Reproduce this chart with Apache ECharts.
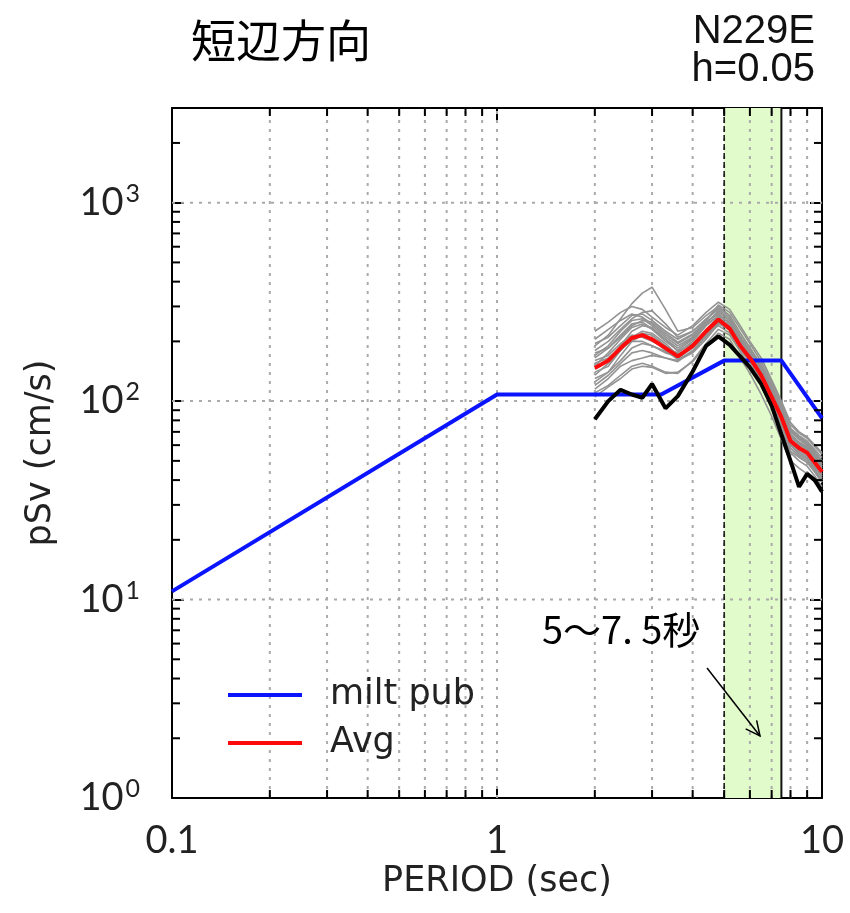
<!DOCTYPE html>
<html>
<head>
<meta charset="utf-8">
<script src="https://cdn.jsdelivr.net/npm/echarts@6/dist/echarts.min.js"></script>
<style>
  html, body { margin: 0; padding: 0; background: #fff; }
  #chart { width: 850px; height: 913px; }
</style>
</head>
<body>
<div id="chart"></div>
<script>
// axis range
const xMin = 0.1, xMax = 10;
const yMin = 1, yMax = 3000;

// milt pub (blue)
const bluePeriods = [0.1, 1, 3.2, 5, 7.5, 10];
const blueValues = [11, 108, 108, 160, 160, 82];

// period grid shared by observed spectra
const periods = [2, 2.2, 2.4, 2.6, 2.8, 3.0, 3.3, 3.6, 4.0, 4.4, 4.8, 5.2, 5.6, 6.0, 6.5, 7.0, 7.5, 8.0, 8.5, 9.0, 9.5, 10];
const avgValues = [147, 160, 185, 208, 215, 205, 185, 168, 190, 225, 258, 232, 190, 165, 135, 105, 83, 63, 58, 55, 49, 44];
const blackValues = [81, 100, 114, 108, 104, 122, 92, 106, 141, 190, 212, 192, 168, 148, 122, 95, 68, 50, 37, 43, 40, 35];

// individual records (gray)
const gray1 = [190, 215, 260, 310, 350, 375, 290, 225, 235, 270, 300, 270, 220, 185, 150, 118, 95, 72, 66, 62, 56, 50];
const gray2 = [225, 250, 280, 300, 290, 265, 235, 215, 240, 280, 315, 290, 240, 200, 165, 128, 100, 78, 70, 66, 60, 55];
const gray3 = [110, 120, 135, 150, 155, 150, 140, 138, 160, 195, 230, 215, 178, 150, 120, 92, 72, 55, 50, 47, 42, 37];
const gray4 = [150, 175, 205, 235, 245, 230, 200, 180, 205, 245, 285, 255, 205, 172, 140, 108, 85, 66, 60, 57, 51, 45];
const gray5 = [130, 140, 160, 185, 195, 190, 178, 165, 185, 215, 240, 220, 182, 158, 128, 100, 78, 60, 55, 52, 46, 41];
const gray6 = [170, 190, 225, 255, 260, 240, 210, 190, 210, 250, 275, 245, 198, 170, 138, 106, 82, 64, 58, 56, 50, 45];
const gray7 = [120, 135, 155, 175, 180, 175, 165, 158, 180, 210, 250, 235, 195, 168, 135, 104, 80, 61, 57, 55, 49, 43];
const gray8 = [140, 150, 180, 210, 225, 220, 195, 170, 190, 230, 265, 240, 195, 165, 132, 100, 78, 60, 54, 51, 45, 40];
const gray9 = [195, 210, 240, 270, 275, 255, 225, 205, 225, 260, 290, 262, 212, 180, 148, 116, 92, 71, 65, 61, 55, 50];
const gray10 = [160, 170, 195, 215, 210, 200, 185, 175, 200, 240, 270, 248, 204, 175, 144, 112, 88, 68, 62, 59, 53, 48];
const gray11 = [115, 130, 150, 160, 165, 170, 165, 160, 175, 205, 245, 230, 190, 160, 125, 95, 73, 56, 52, 49, 44, 39];
const gray12 = [180, 200, 230, 260, 280, 285, 245, 210, 225, 258, 295, 268, 220, 186, 152, 120, 94, 73, 67, 63, 57, 52];
const gray13 = [145, 160, 190, 225, 240, 235, 205, 178, 195, 228, 260, 236, 192, 165, 134, 103, 80, 62, 56, 53, 47, 42];
const gray14 = [205, 230, 255, 275, 265, 245, 215, 195, 215, 250, 280, 255, 210, 178, 146, 114, 90, 70, 64, 60, 54, 49];
const gray15 = [125, 140, 170, 200, 215, 205, 180, 162, 178, 215, 252, 236, 198, 172, 140, 110, 86, 66, 61, 58, 52, 47];
const gray16 = [155, 165, 185, 200, 200, 190, 175, 168, 192, 226, 258, 240, 200, 174, 142, 112, 87, 67, 61, 58, 52, 46];
const gray17 = [135, 155, 180, 205, 220, 215, 190, 172, 188, 218, 248, 228, 186, 160, 128, 98, 76, 58, 53, 50, 44, 39];
const gray18 = [175, 185, 210, 240, 255, 250, 220, 198, 218, 255, 305, 280, 232, 195, 158, 124, 98, 76, 69, 65, 59, 54];
const gray19 = [105, 118, 130, 145, 150, 148, 138, 140, 158, 190, 220, 205, 165, 138, 108, 84, 64, 50, 46, 43, 39, 35];
const gray20 = [165, 185, 215, 245, 250, 232, 205, 185, 208, 242, 270, 250, 206, 176, 144, 112, 88, 68, 62, 59, 53, 47];
const grayList = [gray1, gray2, gray3, gray4, gray5, gray6, gray7, gray8, gray9, gray10,
  gray11, gray12, gray13, gray14, gray15, gray16, gray17, gray18, gray19, gray20];

// highlighted band 5~7.5 s
const bandPeriods = [5, 7.5];

// grid / minor ticks
const xGridLines = [0.2, 0.3, 0.4, 0.5, 0.6, 0.7, 0.8, 0.9, 1, 2, 3, 4, 5, 6, 7, 8, 9];
const xMinorTicks = [0.2, 0.3, 0.4, 0.5, 0.6, 0.7, 0.8, 0.9, 2, 3, 4, 5, 6, 7, 8, 9];
const yGridLines = [10, 100, 1000];
const yMinorTicks = [2, 3, 4, 5, 6, 7, 8, 9, 20, 30, 40, 50, 60, 70, 80, 90, 200, 300, 400, 500, 600, 700, 800, 900, 2000];

const pairs = (xs, ys) => xs.map((x, i) => [x, ys[i]]);

const chart = echarts.init(document.getElementById("chart"));

const tickFont = "Lato";
const nameFont = "DejaVu Sans";
const supers = { 0: "0", 1: "1", 2: "2", 3: "3" };

const grayColor = "#939393";
const series = [];

// green band
series.push({
  type: "custom",
  z: 1,
  silent: true,
  data: [bandPeriods],
  renderItem: function (params, api) {
    const p1 = api.coord([api.value(0), yMax]);
    const p2 = api.coord([api.value(1), yMin]);
    return {
      type: "rect",
      shape: { x: p1[0], y: p1[1], width: p2[0] - p1[0], height: p2[1] - p1[1] },
      style: { fill: "#e2fbcb" },
    };
  },
});

// dashed grid
series.push({
  type: "custom",
  z: 1.2,
  silent: true,
  data: xGridLines.map((t) => [t, 1]),
  renderItem: function (params, api) {
    const a = api.coord([api.value(0), yMin]);
    const b = api.coord([api.value(0), yMax]);
    return {
      type: "line",
      shape: { x1: a[0], y1: a[1], x2: b[0], y2: b[1] },
      style: { stroke: "#aaaaaa", lineWidth: 2, lineDash: [3, 6] },
    };
  },
});
series.push({
  type: "custom",
  z: 1.2,
  silent: true,
  data: yGridLines.map((v) => [1, v]),
  renderItem: function (params, api) {
    const a = api.coord([xMin, api.value(1)]);
    const b = api.coord([xMax, api.value(1)]);
    return {
      type: "line",
      shape: { x1: a[0], y1: a[1], x2: b[0], y2: b[1] },
      style: { stroke: "#aaaaaa", lineWidth: 2, lineDash: [3, 6] },
    };
  },
});

// minor ticks (inside, all four sides)
series.push({
  type: "custom",
  z: 3,
  silent: true,
  data: xMinorTicks.map((t) => [t, 1]),
  renderItem: function (params, api) {
    const a = api.coord([api.value(0), yMin]);
    const b = api.coord([api.value(0), yMax]);
    return {
      type: "group",
      children: [
        { type: "line", shape: { x1: a[0], y1: a[1], x2: a[0], y2: a[1] - 8 }, style: { stroke: "#000", lineWidth: 2 } },
        { type: "line", shape: { x1: b[0], y1: b[1], x2: b[0], y2: b[1] + 8 }, style: { stroke: "#000", lineWidth: 2 } },
      ],
    };
  },
});
series.push({
  type: "custom",
  z: 3,
  silent: true,
  data: yMinorTicks.map((v) => [1, v]),
  renderItem: function (params, api) {
    const a = api.coord([xMin, api.value(1)]);
    const b = api.coord([xMax, api.value(1)]);
    return {
      type: "group",
      children: [
        { type: "line", shape: { x1: a[0], y1: a[1], x2: a[0] + 8, y2: a[1] }, style: { stroke: "#000", lineWidth: 2 } },
        { type: "line", shape: { x1: b[0], y1: b[1], x2: b[0] - 8, y2: b[1] }, style: { stroke: "#000", lineWidth: 2 } },
      ],
    };
  },
});

// band edges: dashed at 5 s, solid at 7.5 s
series.push({
  type: "custom",
  z: 1.4,
  silent: true,
  data: [bandPeriods],
  renderItem: function (params, api) {
    const a1 = api.coord([api.value(0), yMin]);
    const b1 = api.coord([api.value(0), yMax]);
    const a2 = api.coord([api.value(1), yMin]);
    const b2 = api.coord([api.value(1), yMax]);
    return {
      type: "group",
      children: [
        { type: "line", shape: { x1: a1[0], y1: a1[1], x2: b1[0], y2: b1[1] }, style: { stroke: "#111", lineWidth: 1.5, lineDash: [6, 3] } },
        { type: "line", shape: { x1: a2[0], y1: a2[1], x2: b2[0], y2: b2[1] }, style: { stroke: "#111", lineWidth: 2 } },
      ],
    };
  },
});

grayList.forEach((vals, i) => {
  series.push({
    name: "rec" + (i + 1),
    type: "line",
    z: 2,
    data: pairs(periods, vals),
    showSymbol: false,
    silent: true,
    color: grayColor,
    lineStyle: { color: grayColor, width: 1.6 },
  });
});

series.push({
  name: "milt pub",
  type: "line",
  z: 2,
  data: pairs(bluePeriods, blueValues),
  showSymbol: false,
  color: "#0a14ff",
  lineStyle: { color: "#0a14ff", width: 4 },
});
series.push({
  name: "obs",
  type: "line",
  z: 2,
  data: pairs(periods, blackValues),
  showSymbol: false,
  color: "#000",
  lineStyle: { color: "#000", width: 4 },
});
series.push({
  name: "Avg",
  type: "line",
  z: 2,
  data: pairs(periods, avgValues),
  showSymbol: false,
  color: "#ff0a0a",
  lineStyle: { color: "#ff0a0a", width: 4 },
});

// arrow annotation
const arrowFrom = [707, 668], arrowTo = [760, 736];
const ang = Math.atan2(arrowTo[1] - arrowFrom[1], arrowTo[0] - arrowFrom[0]);
const headLen = 16, headAng = 0.45;
const head1 = [arrowTo[0] - headLen * Math.cos(ang - headAng), arrowTo[1] - headLen * Math.sin(ang - headAng)];
const head2 = [arrowTo[0] - headLen * Math.cos(ang + headAng), arrowTo[1] - headLen * Math.sin(ang + headAng)];

const option = {
  animation: false,
  backgroundColor: "#fff",
  title: {
    text: "短辺方向",
    left: 186,
    top: 13,
    textStyle: { fontFamily: "Noto Sans CJK JP", fontSize: 45, fontWeight: "normal", color: "#000" },
  },
  legend: {
    data: ["milt pub", "Avg"],
    orient: "vertical",
    left: 223,
    top: 670,
    icon: "rect",
    itemWidth: 74,
    itemHeight: 4,
    itemGap: 8,
    textStyle: { fontFamily: nameFont, fontSize: 35, color: "#222", lineHeight: 40, padding: [0, 0, 0, 23] },
  },
  grid: { left: 172, right: 28, top: 108, bottom: 115 },
  xAxis: [
    {
      type: "log",
      min: xMin,
      max: xMax,
      position: "bottom",
      axisLine: { show: true, lineStyle: { color: "#000", width: 2 } },
      axisTick: { show: true, inside: true, length: 12, lineStyle: { color: "#000", width: 2 } },
      splitLine: { show: false },
      axisLabel: { fontFamily: tickFont, fontSize: 38, color: "#222", margin: 24 },
      name: "PERIOD (sec)",
      nameLocation: "middle",
      nameGap: 60,
      nameTextStyle: { fontFamily: nameFont, fontSize: 35, color: "#222" },
    },
    {
      type: "log",
      min: xMin,
      max: xMax,
      position: "top",
      axisLine: { show: true, lineStyle: { color: "#000", width: 2 } },
      axisTick: { show: true, inside: true, length: 12, lineStyle: { color: "#000", width: 2 } },
      splitLine: { show: false },
      axisLabel: { show: false },
    },
  ],
  yAxis: [
    {
      type: "log",
      min: yMin,
      max: yMax,
      position: "left",
      axisLine: { show: true, lineStyle: { color: "#000", width: 2 } },
      axisTick: { show: true, inside: true, length: 12, lineStyle: { color: "#000", width: 2 } },
      splitLine: { show: false },
      axisLabel: {
        margin: 32,
        formatter: function (v) {
          const e = Math.round(Math.log10(v));
          if (Math.abs(Math.log10(v) - e) > 1e-6) return "";
          return "{b|10}{s|" + supers[e] + "}";
        },
        rich: {
          b: { fontFamily: tickFont, fontSize: 38, color: "#222" },
          s: { fontFamily: tickFont, fontSize: 25, color: "#222", verticalAlign: "bottom", padding: [0, 0, 18, 2] },
        },
      },
      name: "pSv (cm/s)",
      nameLocation: "middle",
      nameGap: 114,
      nameTextStyle: { fontFamily: nameFont, fontSize: 35, color: "#222" },
    },
    {
      type: "log",
      min: yMin,
      max: yMax,
      position: "right",
      axisLine: { show: true, lineStyle: { color: "#000", width: 2 } },
      axisTick: { show: true, inside: true, length: 12, lineStyle: { color: "#000", width: 2 } },
      splitLine: { show: false },
      axisLabel: { show: false },
    },
  ],
  graphic: [
    {
      type: "text",
      right: 35,
      top: 12,
      style: { text: "N229E", fontFamily: "Liberation Sans", fontSize: 40, fill: "#111", textAlign: "right" },
    },
    {
      type: "text",
      right: 35,
      top: 50,
      style: { text: "h=0.05", fontFamily: "Liberation Sans", fontSize: 40, fill: "#111", textAlign: "right" },
    },
    {
      type: "text",
      x: 542,
      y: 630,
      z: 10,
      style: { text: "5～7. 5秒", fontFamily: "Noto Sans CJK JP", fontSize: 38, fill: "#000", textVerticalAlign: "middle" },
    },
    {
      type: "line",
      z: 10,
      shape: { x1: arrowFrom[0], y1: arrowFrom[1], x2: arrowTo[0], y2: arrowTo[1] },
      style: { stroke: "#000", lineWidth: 1.5 },
    },
    {
      type: "polyline",
      z: 10,
      shape: { points: [head1, arrowTo, head2] },
      style: { stroke: "#000", lineWidth: 1.5, fill: null },
    },
  ],
  series: series,
};

chart.setOption(option);
</script>
</body>
</html>
